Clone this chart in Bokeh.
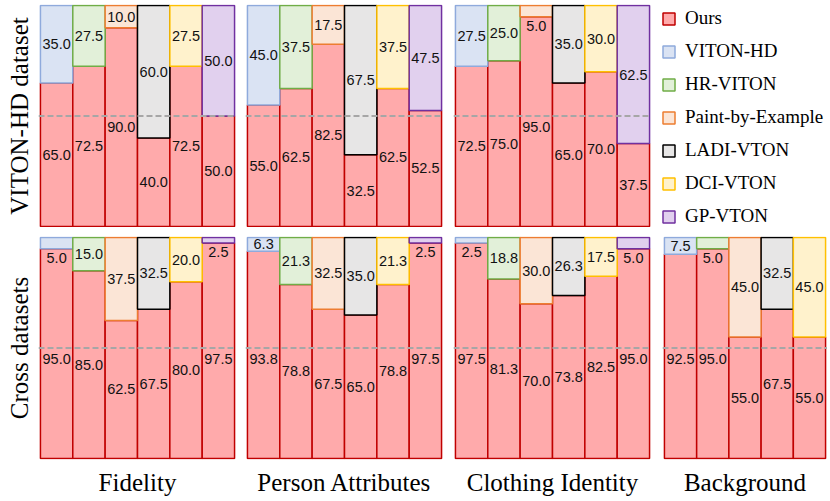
from bokeh.plotting import figure
from bokeh.models import (FactorRange, Range1d, Span, ColumnDataSource, Legend, LegendItem,
                          FixedTicker)
from bokeh.layouts import row, column
from bokeh.embed import file_html
from bokeh.resources import INLINE
from bokeh.core.properties import value

# ---------------- data ----------------
methods = ["VITON-HD", "HR-VITON", "Paint-by-Example", "LADI-VTON", "DCI-VTON", "GP-VTON"]
bg_methods = ["VITON-HD", "HR-VITON", "Paint-by-Example", "LADI-VTON", "DCI-VTON"]
aspects = ["Fidelity", "Person Attributes", "Clothing Identity", "Background"]
row_labels = ["VITON-HD dataset", "Cross datasets"]
ours_name = "Ours"

# VITON-HD dataset (preference %, Ours vs. competitor)
vh_fidelity_ours = [65.0, 72.5, 90.0, 40.0, 72.5, 50.0]
vh_fidelity_comp = [35.0, 27.5, 10.0, 60.0, 27.5, 50.0]
vh_person_ours = [55.0, 62.5, 82.5, 32.5, 62.5, 52.5]
vh_person_comp = [45.0, 37.5, 17.5, 67.5, 37.5, 47.5]
vh_cloth_ours = [72.5, 75.0, 95.0, 65.0, 70.0, 37.5]
vh_cloth_comp = [27.5, 25.0, 5.0, 35.0, 30.0, 62.5]

# Cross datasets
cd_fidelity_ours = [95.0, 85.0, 62.5, 67.5, 80.0, 97.5]
cd_fidelity_comp = [5.0, 15.0, 37.5, 32.5, 20.0, 2.5]
cd_person_ours = [93.8, 78.8, 67.5, 65.0, 78.8, 97.5]
cd_person_comp = [6.3, 21.3, 32.5, 35.0, 21.3, 2.5]
cd_cloth_ours = [97.5, 81.3, 70.0, 73.8, 82.5, 95.0]
cd_cloth_comp = [2.5, 18.8, 30.0, 26.3, 17.5, 5.0]
cd_background_ours = [92.5, 95.0, 55.0, 67.5, 55.0]
cd_background_comp = [7.5, 5.0, 45.0, 32.5, 45.0]

# ---------------- style ----------------
OURS_FILL = "#ffaaab"
OURS_LINE = "#c00000"
COMP_FILL = {"VITON-HD": "#dae3f3", "HR-VITON": "#e2f0d9", "Paint-by-Example": "#fbe5d6",
             "LADI-VTON": "#e7e6e6", "DCI-VTON": "#fff2cc", "GP-VTON": "#e1d0ee"}
COMP_LINE = {"VITON-HD": "#8faadc", "HR-VITON": "#70ad47", "Paint-by-Example": "#ed7d31",
             "LADI-VTON": "#000000", "DCI-VTON": "#ffc000", "GP-VTON": "#7030a0"}
NUM_FONT = value("Liberation Sans")
SERIF = "Liberation Serif"
BAR_W = 33
PANEL_H = 223
TOP_B = 4          # space above the first row
ROW_GAP = 9        # space between the rows
BOTTOM_B = 40      # room for the aspect titles
LEFT_B = 38        # room for the row titles


def style_label_axis(ax, label, standoff):
    ax.ticker = FixedTicker(ticks=[])
    ax.axis_label = label
    ax.axis_label_text_font = SERIF
    ax.axis_label_text_font_size = "25px"
    ax.axis_label_text_font_style = "normal"
    ax.axis_label_text_color = "#000000"
    ax.axis_label_standoff = standoff
    ax.major_tick_line_color = None
    ax.minor_tick_line_color = None
    ax.major_tick_out = 0
    ax.minor_tick_out = 0
    ax.major_label_standoff = 0
    ax.axis_line_color = None


def panel(meths, ours, comp, gap_left, top_row, left_label=None, bottom_label=None):
    w = BAR_W * len(meths) + gap_left
    h = PANEL_H + (TOP_B if top_row else ROW_GAP) + (BOTTOM_B if bottom_label else 0)
    p = figure(x_range=FactorRange(factors=meths, range_padding=0.06, range_padding_units="absolute"),
               y_range=Range1d(-0.5, 100.5), width=w, height=h,
               x_axis_location="below" if bottom_label else None,
               y_axis_location="left" if left_label else None,
               output_backend="svg", toolbar_location=None,
               min_border=0, outline_line_color=None)
    p.min_border_left = gap_left
    p.min_border_top = TOP_B if top_row else ROW_GAP
    if bottom_label:
        p.min_border_bottom = BOTTOM_B
    p.grid.grid_line_color = None

    total = [o + c for o, c in zip(ours, comp)]
    ours_y, ours_off, comp_y, comp_off = [], [], [], []
    for o, c in zip(ours, comp):
        if o / 2 > 46:          # keep label clear of the 50 % line
            ours_y.append(50.0); ours_off.append(11)
        else:
            ours_y.append(o / 2); ours_off.append(0)
        if c < 6:               # thin segment: label just below it
            comp_y.append(o); comp_off.append(9)
        else:
            comp_y.append(o + c / 2); comp_off.append(0)
    src = ColumnDataSource(dict(
        x=meths, ours=ours, total=total,
        cfill=[COMP_FILL[m] for m in meths], cline=[COMP_LINE[m] for m in meths],
        ours_txt=[f"{v:.1f}" for v in ours], comp_txt=[f"{v:.1f}" for v in comp],
        ours_y=ours_y, ours_off=ours_off, comp_y=comp_y, comp_off=comp_off))

    p.vbar(x="x", bottom=0, top="ours", width=1, fill_color=OURS_FILL,
           line_color=OURS_LINE, line_width=1.5, source=src)
    p.vbar(x="x", bottom="ours", top="total", width=1, fill_color="cfill",
           line_color="cline", line_width=1.5, source=src)
    for ycol, tcol, ocol in (("ours_y", "ours_txt", "ours_off"), ("comp_y", "comp_txt", "comp_off")):
        p.text(x="x", y=ycol, text=tcol, y_offset=ocol, source=src,
               text_font=NUM_FONT, text_font_size="14.5px", text_color="#111111",
               text_align="center", text_baseline="middle")
    p.add_layout(Span(location=50, dimension="width", line_color="#a6a6a6",
                      line_width=2, line_dash="6 3"))

    if left_label:
        style_label_axis(p.yaxis[0], left_label, 6)
    if bottom_label:
        style_label_axis(p.xaxis[0], bottom_label, 9)
    return p


p11 = panel(methods, vh_fidelity_ours, vh_fidelity_comp, LEFT_B, True, left_label=row_labels[0])
p12 = panel(methods, vh_person_ours, vh_person_comp, 9, True)
p13 = panel(methods, vh_cloth_ours, vh_cloth_comp, 10, True)

p21 = panel(methods, cd_fidelity_ours, cd_fidelity_comp, LEFT_B, False,
            left_label=row_labels[1], bottom_label=aspects[0])
p22 = panel(methods, cd_person_ours, cd_person_comp, 9, False, bottom_label=aspects[1])
p23 = panel(methods, cd_cloth_ours, cd_cloth_comp, 10, False, bottom_label=aspects[2])
p24 = panel(bg_methods, cd_background_ours, cd_background_comp, 11, False, bottom_label=aspects[3])

# ---------------- legend panel ----------------
legend_names = [ours_name] + methods
lg = figure(width=176, height=PANEL_H + TOP_B, x_range=FactorRange(factors=legend_names),
            y_range=Range1d(0, 1), x_axis_location=None, y_axis_location=None,
            output_backend="svg", toolbar_location=None, min_border=0,
            min_border_left=7, outline_line_color=None)
lg.grid.grid_line_color = None
key_src = ColumnDataSource(dict(
    name=legend_names,
    fill=[OURS_FILL] + [COMP_FILL[m] for m in methods],
    line=[OURS_LINE] + [COMP_LINE[m] for m in methods]))
key = lg.vbar(x="name", top=1, width=1, fill_color="fill", line_color="line",
              line_width=1.5, source=key_src)
key.visible = False   # only used as legend keys
items = [LegendItem(label=n, renderers=[key], index=i) for i, n in enumerate(legend_names)]
leg = Legend(items=items, location="top_left", margin=3, padding=3,
             border_line_color=None, background_fill_alpha=0,
             inactive_fill_alpha=0,
             glyph_width=15, glyph_height=15, label_standoff=9,
             label_height=22, spacing=11,
             label_text_font=SERIF, label_text_font_size="19px", label_text_color="#000000")
lg.add_layout(leg)

layout = column(row(p11, p12, p13, lg, spacing=0),
                row(p21, p22, p23, p24, spacing=0), spacing=0)

with open("out.html", "w") as f:
    f.write(file_html(layout, INLINE))
